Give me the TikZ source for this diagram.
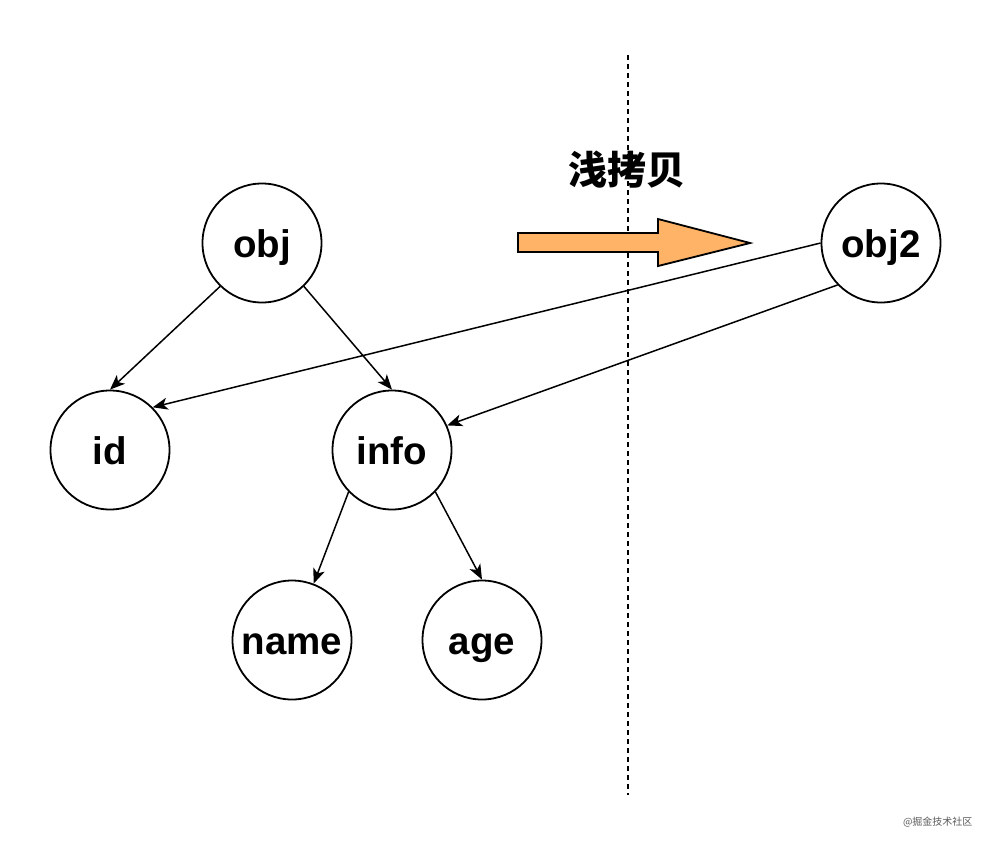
\documentclass[tikz,border=0pt]{standalone}
\usepackage{fontspec}
\setmainfont{Liberation Sans}
\newfontfamily\cjk{Noto Sans CJK SC}
\usetikzlibrary{arrows.meta}
\begin{document}
\begin{tikzpicture}[x=1pt,y=-1pt,
  circ/.style={draw,line width=1.8pt,circle,minimum size=119pt,inner sep=0pt,text height=32pt,text depth=4pt,font=\fontsize{38.5}{42}\selectfont\bfseries},
  edge/.style={line width=1.5pt,-{Stealth[length=15pt,width=12pt,inset=4pt]}}]
\useasboundingbox (0,0) rectangle (992,844);
\draw[line width=1.3pt,dash pattern=on 5pt off 4pt] (628,55) coordinate (dtop) -- (628,795) coordinate (dbot);
\node[circ] (obj) at (262,243) {obj};
\node[circ] (obj2) at (881,243) {obj2};
\node[circ] (id) at (110,450) {id};
\node[circ] (info) at (392,450) {info};
\node[circ] (name) at (292,640) {name};
\node[circ] (age) at (482,640) {age};
\node[font=\cjk\fontsize{39}{42}\selectfont\bfseries] (title) at (627,170) {浅拷贝};
\draw[line width=1.8pt,fill={rgb,255:red,255;green,179;blue,102}]
  (518,233) -- (658,233) -- (658,219) -- (750,243) -- (658,266) -- (658,252) -- (518,252) -- cycle;
\draw[edge] (obj.226) -- (id.north);
\draw[edge] (obj.314) -- (info.north);
\draw[edge] (obj2.west) -- (id.45);
\draw[edge] (obj2.224) -- (info.24);
\draw[edge] (info.224) -- (name.69);
\draw[edge] (info.316) -- (age.north);
\node[font=\cjk\fontsize{10}{12}\selectfont,text={rgb,255:red,90;green,90;blue,90},anchor=east] (wm) at (976,822) {@掘金技术社区};
\end{tikzpicture}
\end{document}
